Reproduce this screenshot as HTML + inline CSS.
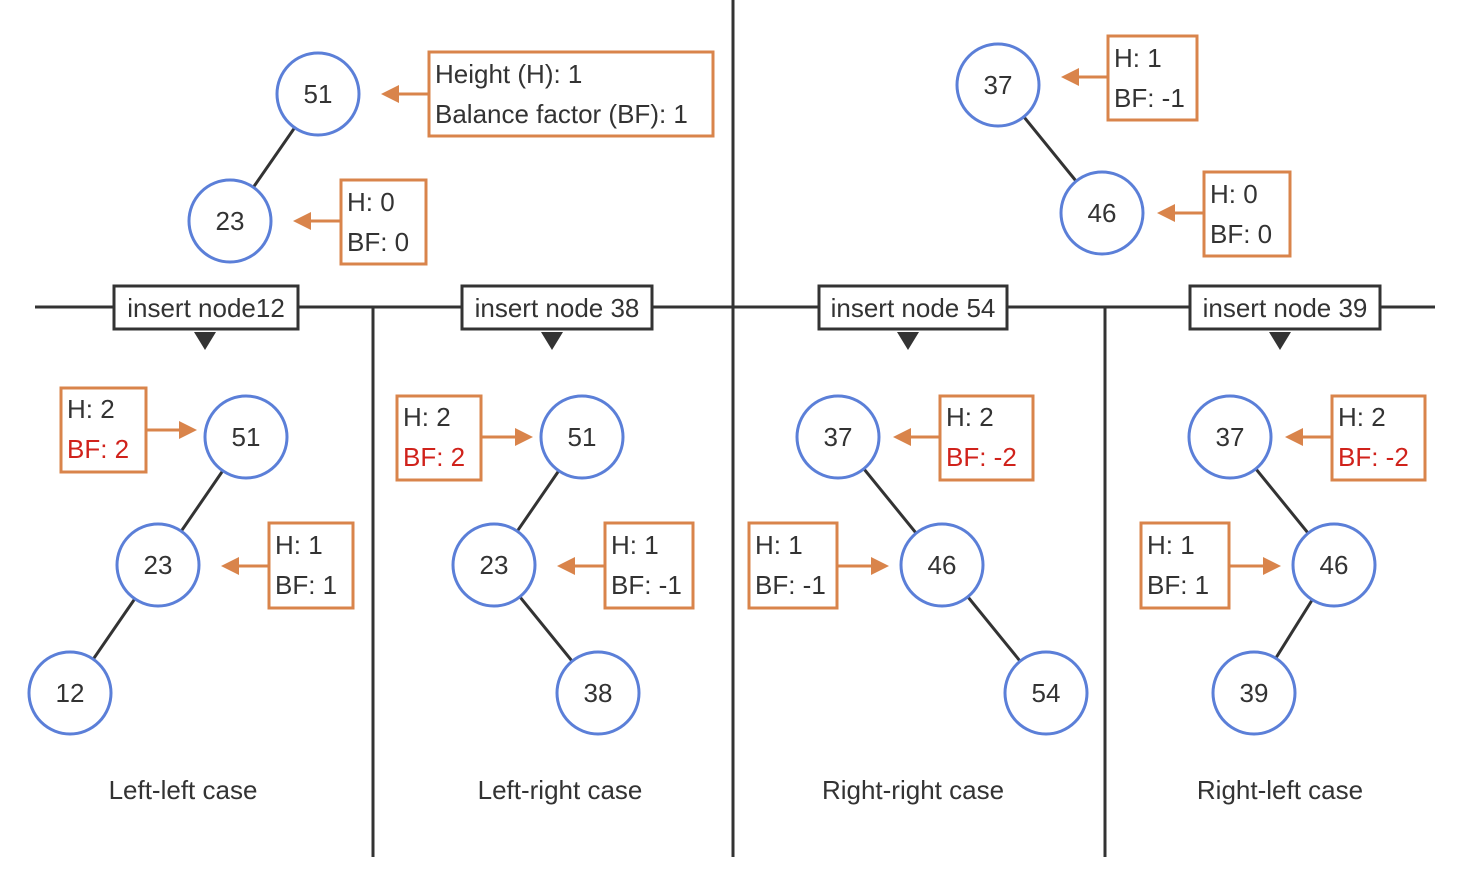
<!DOCTYPE html>
<html><head><meta charset="utf-8"><style>body{margin:0;background:#fff}svg{display:block}text{font-family:"Liberation Sans",sans-serif;fill:#333}</style></head><body>
<svg width="1468" height="896" viewBox="0 0 1468 896" xmlns="http://www.w3.org/2000/svg">
<defs><marker id="a" markerWidth="6" markerHeight="6" refX="5" refY="3" orient="auto" markerUnits="strokeWidth"><path d="M0,0 L6,3 L0,6 z" fill="#d9844b"/></marker></defs>
<g stroke="#333" stroke-width="3" fill="none">
<line x1="35" y1="307" x2="1435" y2="307"/>
<line x1="733" y1="0" x2="733" y2="857"/>
<line x1="373" y1="307" x2="373" y2="857"/>
<line x1="1105" y1="307" x2="1105" y2="857"/>
<line x1="318" y1="94" x2="230" y2="221"/>
<line x1="998" y1="85" x2="1102" y2="213"/>
<line x1="246" y1="437" x2="158" y2="565"/><line x1="158" y1="565" x2="70" y2="693"/>
<line x1="582" y1="437" x2="494" y2="565"/><line x1="494" y1="565" x2="598" y2="693"/>
<line x1="838" y1="437" x2="942" y2="565"/><line x1="942" y1="565" x2="1046" y2="693"/>
<line x1="1230" y1="437" x2="1334" y2="565"/><line x1="1334" y1="565" x2="1254" y2="693"/>
</g>
<g stroke="#333" stroke-width="3" fill="#fff">
<rect x="114" y="286" width="184" height="43"/><rect x="462" y="286" width="190" height="43"/><rect x="819" y="286" width="188" height="43"/><rect x="1190" y="286" width="190" height="43"/>
</g>
<g fill="#333"><path d="M194,332h22l-11,18z"/><path d="M541,332h22l-11,18z"/><path d="M897,332h22l-11,18z"/><path d="M1269,332h22l-11,18z"/></g>
<g font-size="26" text-anchor="middle">
<text x="206" y="317">insert node12</text><text x="557" y="317">insert node 38</text><text x="913" y="317">insert node 54</text><text x="1285" y="317">insert node 39</text>
</g>
<g stroke="#5b7fd8" stroke-width="3" fill="#fff">
<circle cx="318" cy="94" r="41"/><circle cx="230" cy="221" r="41"/><circle cx="998" cy="85" r="41"/><circle cx="1102" cy="213" r="41"/>
<circle cx="246" cy="437" r="41"/><circle cx="158" cy="565" r="41"/><circle cx="70" cy="693" r="41"/>
<circle cx="582" cy="437" r="41"/><circle cx="494" cy="565" r="41"/><circle cx="598" cy="693" r="41"/>
<circle cx="838" cy="437" r="41"/><circle cx="942" cy="565" r="41"/><circle cx="1046" cy="693" r="41"/>
<circle cx="1230" cy="437" r="41"/><circle cx="1334" cy="565" r="41"/><circle cx="1254" cy="693" r="41"/>
</g>
<g font-size="26" text-anchor="middle">
<text x="318" y="103">51</text><text x="230" y="230">23</text><text x="998" y="94">37</text><text x="1102" y="222">46</text>
<text x="246" y="446">51</text><text x="158" y="574">23</text><text x="70" y="702">12</text>
<text x="582" y="446">51</text><text x="494" y="574">23</text><text x="598" y="702">38</text>
<text x="838" y="446">37</text><text x="942" y="574">46</text><text x="1046" y="702">54</text>
<text x="1230" y="446">37</text><text x="1334" y="574">46</text><text x="1254" y="702">39</text>
<text x="183" y="799">Left-left case</text><text x="560" y="799">Left-right case</text><text x="913" y="799">Right-right case</text><text x="1280" y="799">Right-left case</text>
</g>
<g stroke="#d9844b" stroke-width="3" fill="none" marker-end="url(#a)">
<line x1="429" y1="94" x2="384" y2="94"/><line x1="341" y1="221" x2="296" y2="221"/>
<line x1="1108" y1="77" x2="1064" y2="77"/><line x1="1204" y1="213" x2="1160" y2="213"/>
<line x1="146" y1="430" x2="194" y2="430"/><line x1="269" y1="566" x2="224" y2="566"/>
<line x1="481" y1="437" x2="530" y2="437"/><line x1="605" y1="566" x2="560" y2="566"/>
<line x1="940" y1="437" x2="896" y2="437"/><line x1="837" y1="566" x2="886" y2="566"/>
<line x1="1332" y1="437" x2="1288" y2="437"/><line x1="1229" y1="566" x2="1278" y2="566"/>
</g>
<g stroke="#d9844b" stroke-width="3" fill="#fff">
<rect x="429" y="52" width="284" height="84"/><rect x="341" y="180" width="85" height="84"/>
<rect x="1108" y="36" width="89" height="84"/><rect x="1204" y="172" width="86" height="84"/>
<rect x="61" y="388" width="85" height="84"/><rect x="269" y="523" width="84" height="85"/>
<rect x="397" y="396" width="84" height="84"/><rect x="605" y="523" width="88" height="85"/>
<rect x="940" y="396" width="93" height="84"/><rect x="749" y="523" width="88" height="85"/>
<rect x="1332" y="396" width="93" height="84"/><rect x="1141" y="523" width="88" height="85"/>
</g>
<g font-size="26">
<text x="435" y="83">Height (H): 1</text><text x="435" y="123">Balance factor (BF): 1</text>
<text x="347" y="211">H: 0</text><text x="347" y="251">BF: 0</text>
<text x="1114" y="67">H: 1</text><text x="1114" y="107">BF: -1</text>
<text x="1210" y="203">H: 0</text><text x="1210" y="243">BF: 0</text>
<text x="67" y="418">H: 2</text><text x="67" y="458" style="fill:#d0221b">BF: 2</text>
<text x="275" y="554">H: 1</text><text x="275" y="594">BF: 1</text>
<text x="403" y="426">H: 2</text><text x="403" y="466" style="fill:#d0221b">BF: 2</text>
<text x="611" y="554">H: 1</text><text x="611" y="594">BF: -1</text>
<text x="946" y="426">H: 2</text><text x="946" y="466" style="fill:#d0221b">BF: -2</text>
<text x="755" y="554">H: 1</text><text x="755" y="594">BF: -1</text>
<text x="1338" y="426">H: 2</text><text x="1338" y="466" style="fill:#d0221b">BF: -2</text>
<text x="1147" y="554">H: 1</text><text x="1147" y="594">BF: 1</text>
</g>
</svg>
</body></html>
